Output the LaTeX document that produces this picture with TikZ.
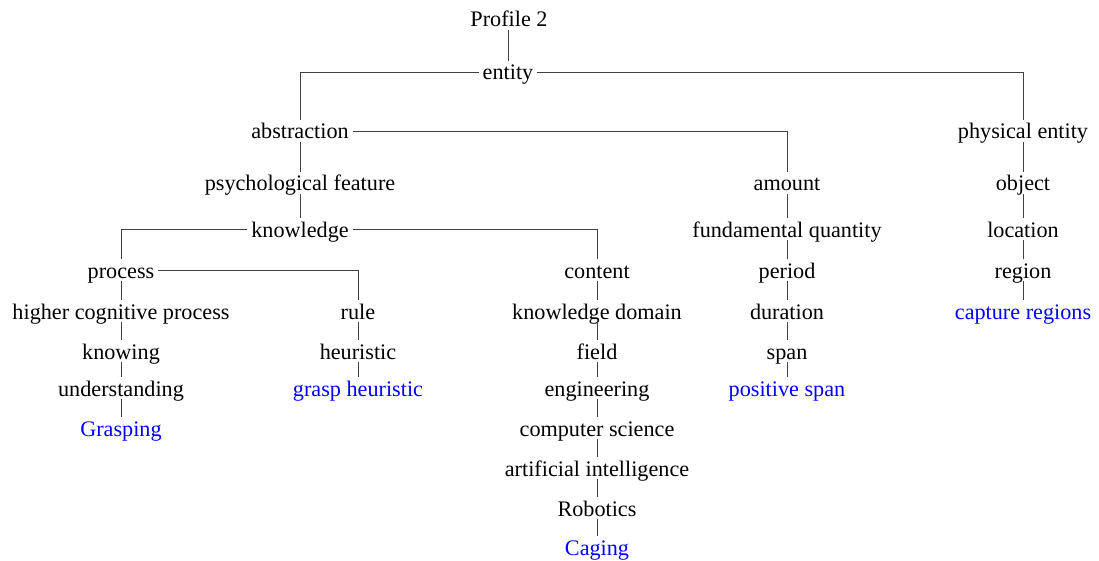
\documentclass[tikz,border=0pt]{standalone}
\usepackage{fontspec}
\setmainfont{Liberation Serif}
\begin{document}
\begin{tikzpicture}[x=1pt,y=-1pt,
  every node/.style={font=\fontsize{22.2}{25}\selectfont, text height=18pt, text depth=2pt, inner xsep=4pt, inner ysep=1pt, anchor=center},
  leaf/.style={text=blue},
  conn/.style={draw=black!75, line width=0.9pt}]
\useasboundingbox (0,0) rectangle (1099,561);
% nodes
\node (p2) at (509,19) {Profile 2};
\node (entity) at (508,72) {entity};
\node (abs) at (300,131) {abstraction};
\node (phys) at (1023,131) {physical entity};
\node (psy) at (300,183) {psychological feature};
\node (amount) at (787,183) {amount};
\node (object) at (1023,183) {object};
\node (know) at (300,229) {knowledge};
\node (fq) at (787,229) {fundamental quantity};
\node (loc) at (1023,229) {location};
\node (proc) at (121,270) {process};
\node (content) at (597,270) {content};
\node (period) at (787,270) {period};
\node (region) at (1023,270) {region};
\node (hcp) at (121,311) {higher cognitive process};
\node (rule) at (358,311) {rule};
\node (kd) at (597,311) {knowledge domain};
\node (dur) at (787,311) {duration};
\node[leaf] (capreg) at (1023,311) {capture regions};
\node (knowing) at (121,351) {knowing};
\node (heur) at (358,351) {heuristic};
\node (field) at (597,351) {field};
\node (span) at (787,351) {span};
\node (under) at (121,388) {understanding};
\node[leaf] (gh) at (358,388) {grasp heuristic};
\node (eng) at (597,388) {engineering};
\node[leaf] (pspan) at (787,388) {positive span};
\node[leaf] (grasping) at (121,428) {Grasping};
\node (cs) at (597,428) {computer science};
\node (ai) at (597,468) {artificial intelligence};
\node (rob) at (597,508) {Robotics};
\node[leaf] (caging) at (597,547) {Caging};
% connectors
\begin{scope}[conn]
\draw (p2.south -| entity) -- (entity.north);
\draw (entity.west) -| (abs.north);
\draw (entity.east) -| (phys.north);
\draw (abs.south) -- (psy.north);
\draw (abs.east) -| (amount.north);
\draw (psy.south) -- (know.north);
\draw (know.west) -| (proc.north);
\draw (know.east) -| (content.north);
\draw (proc.east) -| (rule.north);
\draw (proc.south) -- (hcp.north);
\draw (hcp.south) -- (knowing.north);
\draw (knowing.south) -- (under.north);
\draw (under.south) -- (grasping.north);
\draw (rule.south) -- (heur.north);
\draw (heur.south) -- (gh.north);
\draw (content.south) -- (kd.north);
\draw (kd.south) -- (field.north);
\draw (field.south) -- (eng.north);
\draw (eng.south) -- (cs.north);
\draw (cs.south) -- (ai.north);
\draw (ai.south) -- (rob.north);
\draw (rob.south) -- (caging.north);
\draw (amount.south) -- (fq.north);
\draw (fq.south) -- (period.north);
\draw (period.south) -- (dur.north);
\draw (dur.south) -- (span.north);
\draw (span.south) -- (pspan.north);
\draw (phys.south) -- (object.north);
\draw (object.south) -- (loc.north);
\draw (loc.south) -- (region.north);
\draw (region.south) -- (capreg.north);
\end{scope}
\end{tikzpicture}
\end{document}
